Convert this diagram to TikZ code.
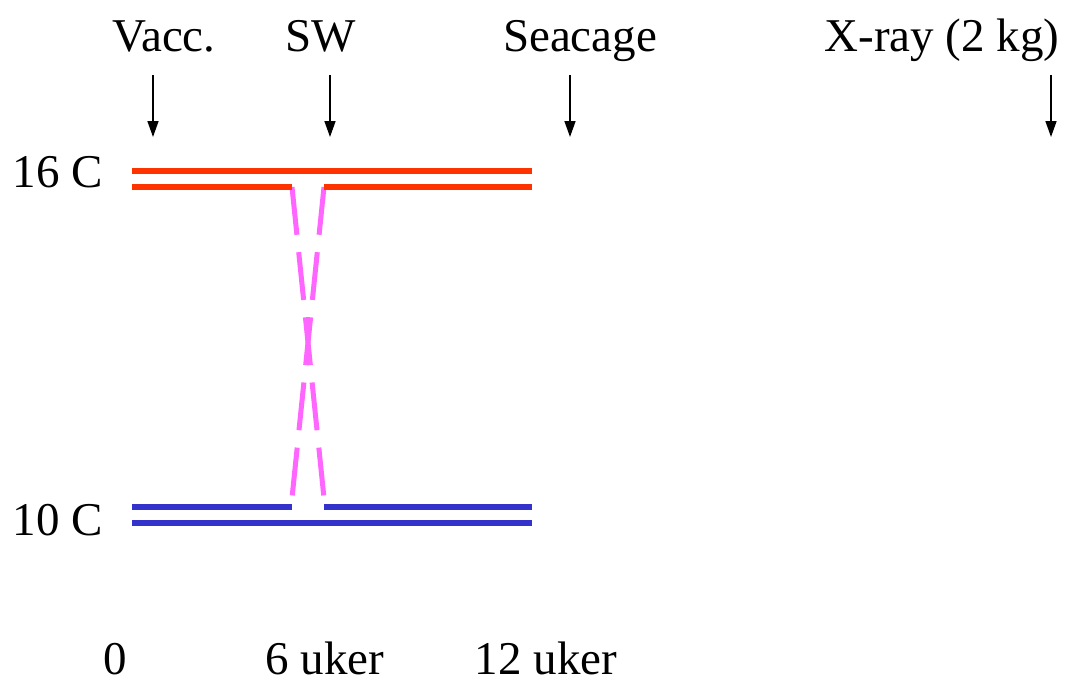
\documentclass[tikz,border=0pt]{standalone}
\usepackage{fontspec}
\setmainfont{Liberation Serif}
\newfontfamily\timesfont{Liberation Serif}
\usetikzlibrary{arrows.meta}
\definecolor{hotred}{RGB}{255,51,0}
\definecolor{coldblue}{RGB}{51,51,204}
\definecolor{swpink}{RGB}{255,102,255}
\tikzset{
	lbl/.style={font=\timesfont\fontsize{47}{56}\selectfont,inner sep=0pt,anchor=base},
	tank/.style={line width=6pt},
	ptr/.style={line width=1.6pt,-{Triangle[length=16pt,width=11pt]}},
	move/.style={swpink,line width=5pt,dash pattern=on 48pt off 17.5pt}
}
\begin{document}
\begin{tikzpicture}[x=1pt,y=-1pt]
		\useasboundingbox (0,0) rectangle (1070,683);
		\node[lbl] (vacc) at (164,51) {Vacc.};
		\node[lbl] (sw) at (321,51) {SW};
		\node[lbl] (sea) at (580,51) {Seacage};
		\node[lbl] (xray) at (942,51) {X-ray (2 kg)};
		\node[lbl,anchor=base east] (t16) at (103,187) {16 C};
		\node[lbl,anchor=base east] (t10) at (103,535) {10 C};
		\node[lbl] (w0) at (115,674) {0};
		\node[lbl] (w6) at (325,674) {6 uker};
		\node[lbl] (w12) at (546,674) {12 uker};
		\foreach \n/\x in {vacc/153,sw/330,sea/570,xray/1051}{
			\coordinate (\n-top) at (\x,75);
			\coordinate (\n-bot) at (\x,137);
			\draw[ptr] (\n-top) -- (\n-bot);
		}
		\coordinate (hl) at (292,187);
		\coordinate (hr) at (324,187);
		\coordinate (cl) at (292,498);
		\coordinate (cr) at (324,498);
		\draw[move] (hl) -- (cr);
		\draw[move] (hr) -- (cl);
		\draw[tank,hotred] (132,171) -- (532,171);
		\draw[tank,hotred] (132,187) -- (hl) (hr) -- (532,187);
		\draw[tank,coldblue] (132,507) -- (292,507) (324,507) -- (532,507);
		\draw[tank,coldblue] (132,523) -- (532,523);
\end{tikzpicture}
\end{document}
